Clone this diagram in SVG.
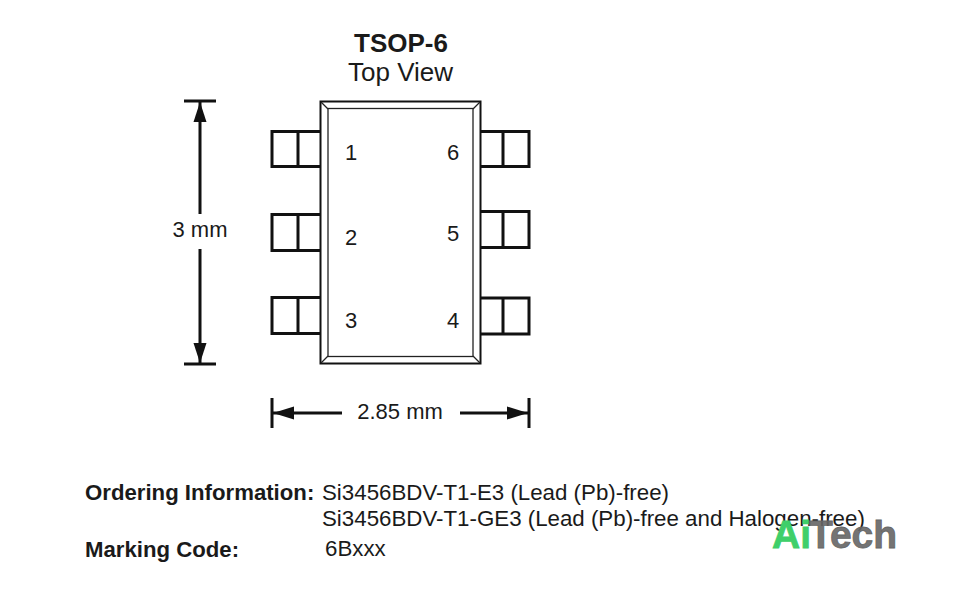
<svg xmlns="http://www.w3.org/2000/svg" width="964" height="593" viewBox="0 0 964 593">
<style>
text{font-family:"Liberation Sans",Arial,sans-serif;font-size:22px;fill:#1a1a1a}
.b{font-weight:bold}
.o{font-size:22.3px}
.p{font-size:22.2px}
.n{font-size:22px;text-anchor:middle}
.h{font-size:26px;text-anchor:middle}
.l{fill:none;stroke:#111;stroke-width:3}
.e{fill:none;stroke:#111;stroke-width:2}
.t{fill:none;stroke:#222;stroke-width:1.3}
.d{fill:none;stroke:#111;stroke-width:3}
.a{fill:#111;stroke:none}
</style>
<rect width="964" height="593" fill="#fff"/>
<g id="title">
<text x="401" y="52" class="h b">TSOP-6</text>
<text x="400.500" y="81" class="h">Top View</text>
</g>
<g id="body">
<rect x="320.500" y="101.500" width="160" height="262" class="e"/>
<rect x="328" y="108.500" width="145" height="248" class="t"/>
<path d="M321 102L328 109M480 102L473 109M321 363L328 356M480 363L473 356" class="t"/>
</g>
<g id="pin1"><path d="M320 131.500H272V166.500H320M298 131.500V166.500" class="l"/><text x="351" y="160" class="n">1</text></g>
<g id="pin2"><path d="M320 214.500H272V250.500H320M298 214.500V250.500" class="l"/><text x="351" y="245" class="n">2</text></g>
<g id="pin3"><path d="M320 297.500H272V333.500H320M298 297.500V333.500" class="l"/><text x="351" y="328" class="n">3</text></g>
<g id="pin6"><path d="M481 131.500H529V166.500H481M503 131.500V166.500" class="l"/><text x="453" y="160" class="n">6</text></g>
<g id="pin5"><path d="M481 211.500H529V247.500H481M503 211.500V247.500" class="l"/><text x="453" y="241" class="n">5</text></g>
<g id="pin4"><path d="M481 298H529V334H481M503 298V334" class="l"/><text x="453" y="328" class="n">4</text></g>
<g id="connectors">
<path d="M184 101H216M200 101V214M200 249V364M184 364H216" class="d"/>
<path d="M200 102L193.500 122H206.500Z" class="a"/>
<path d="M200 363L193.500 343H206.500Z" class="a"/>
<path d="M272 398V428M272 413H342M460 413H529M529 398V428" class="d"/>
<path d="M273 413L294 406.500V419.500Z" class="a"/>
<path d="M528 413L507 406.500V419.500Z" class="a"/>
</g>
<g id="dim-labels">
<text x="200" y="237" text-anchor="middle">3 mm</text>
<text x="400" y="419" text-anchor="middle">2.85 mm</text>
</g>
<g id="info">
<text x="85" y="500" class="b p">Ordering Information:</text>
<text x="322" y="500" class="o">Si3456BDV-T1-E3 (Lead (Pb)-free)</text>
<text x="322" y="526" class="o">Si3456BDV-T1-GE3 (Lead (Pb)-free and Halogen-free)</text>
<text x="85" y="557" class="b p">Marking Code:</text>
<text x="325" y="556" class="o">6Bxxx</text>
</g>
<g id="watermark">
<text x="772" y="548" class="b" style="font-size:39px;fill:#3fcf6a;stroke:#3fcf6a;stroke-width:.8">Ai</text>
<text x="809" y="548" class="b" style="font-size:39px;fill:#666;fill-opacity:.92;stroke:#666;stroke-width:.8">Tech</text>
</g>
</svg>
